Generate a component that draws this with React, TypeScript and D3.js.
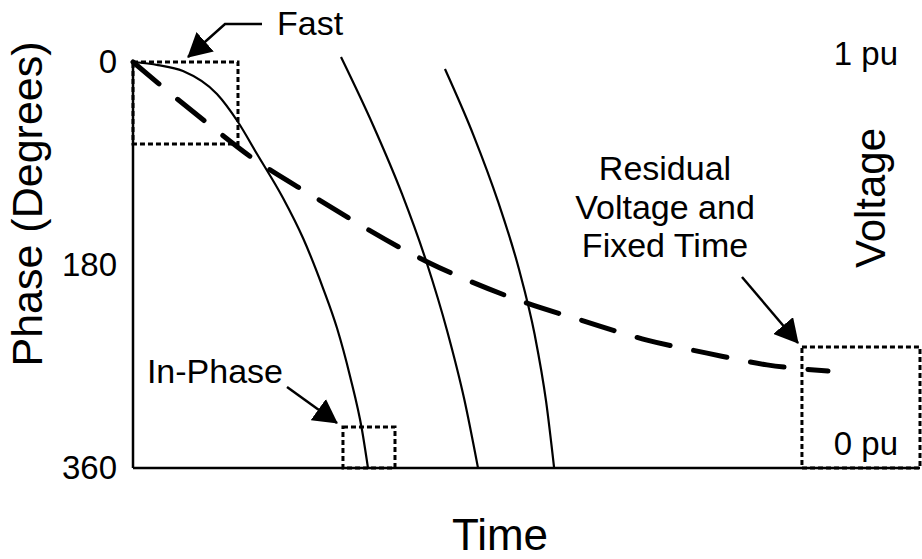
import React, { useEffect, useRef } from 'react';
import * as d3 from 'd3';

// phase ticks on the left axis
const phaseTicks = [0, 180, 360];

// solid curves: time vs phase (degrees)
const curveFast = [
  { t: 0, p: 0 }, { t: 0.318, p: 2.7 }, { t: 0.635, p: 8 }, { t: 1.067, p: 28.4 },
  { t: 1.334, p: 53.2 }, { t: 1.576, p: 81.6 }, { t: 1.906, p: 120.6 }, { t: 2.16, p: 156.1 },
  { t: 2.414, p: 200.4 }, { t: 2.592, p: 235.9 }, { t: 2.757, p: 278.4 }, { t: 2.91, p: 326.3 },
  { t: 2.986, p: 360 }
];
const curveMid = [
  { t: 2.643, p: -4.4 }, { t: 3.052, p: 56.3 }, { t: 3.418, p: 117 }, { t: 3.731, p: 177.8 },
  { t: 3.992, p: 238.5 }, { t: 4.21, p: 299.3 }, { t: 4.384, p: 360 }
];
const curveLate = [
  { t: 3.964, p: 6.2 }, { t: 4.328, p: 65.2 }, { t: 4.64, p: 124.1 }, { t: 4.902, p: 183.1 },
  { t: 5.105, p: 242.1 }, { t: 5.249, p: 301 }, { t: 5.351, p: 360 }
];

// dashed curve: residual voltage in pu
const voltageDecay = [
  { t: 0, v: 1.0 }, { t: 0.318, v: 0.948 }, { t: 0.94, v: 0.85 }, { t: 1.55, v: 0.759 },
  { t: 2.224, v: 0.677 }, { t: 3.748, v: 0.507 }, { t: 5.006, v: 0.406 }, { t: 5.68, v: 0.365 },
  { t: 6.531, v: 0.315 }, { t: 7.294, v: 0.283 }, { t: 8.056, v: 0.254 }, { t: 8.831, v: 0.239 }
];

// dotted annotation boxes [t0, t1, p0, p1]
const boxes = [
  [0, 1.334, 0, 72.7],
  [2.668, 3.329, 323.6, 360],
  [8.5, 10, 252.7, 360]
];

// annotation arrows, last point is the tip
const arrows = [
  [{ t: 1.639, p: -33.7 }, { t: 1.169, p: -33.7 }, { t: 0.699, p: -4.4 }],
  [{ t: 1.957, p: 288.2 }, { t: 2.592, p: 320.1 }],
  [{ t: 7.738, p: 190.6 }, { t: 8.45, p: 249.2 }]
];

const residualLines = ['Residual', 'Voltage and', 'Fixed Time'];

const W = 922, H = 559;
const left = 133, right = 920, top = 62, bottom = 468;
const font = '"Liberation Sans", Arial, sans-serif';

export default function App() {
  const axisRef = useRef<SVGGElement>(null);

  const x = d3.scaleLinear().domain([0, 10]).range([left, right]);
  const y = d3.scaleLinear().domain([0, 360]).range([top, bottom]);
  const yv = d3.scaleLinear().domain([0, 1]).range([bottom, top]);

  const phaseLine = d3.line<{ t: number; p: number }>()
    .x(d => x(d.t)).y(d => y(d.p))
    .curve(d3.curveMonotoneX);
  const voltLine = d3.line<{ t: number; v: number }>()
    .x(d => x(d.t)).y(d => yv(d.v))
    .curve(d3.curveMonotoneX);
  const arrowLine = d3.line<{ t: number; p: number }>()
    .x(d => x(d.t)).y(d => y(d.p));

  useEffect(() => {
    const g = d3.select(axisRef.current);
    g.selectAll('*').remove();
    g.call(d3.axisLeft(y).tickValues(phaseTicks).tickSize(0).tickSizeOuter(0).tickPadding(16) as any);
    g.select('.domain').remove();
    g.selectAll('text')
      .attr('font-size', 33)
      .attr('font-family', font)
      .attr('fill', '#000');
  }, []);

  return (
    <svg width={W} height={H} style={{ position: 'absolute', left: 0, top: 0, background: '#fff' }}>
      <defs>
        <marker id="head" viewBox="0 0 24 26" refX={23} refY={13} markerWidth={24} markerHeight={26}
          markerUnits="userSpaceOnUse" orient="auto">
          <path d="M0,0 L24,13 L0,26 Z" fill="#000" />
        </marker>
      </defs>

      {/* dotted boxes */}
      {boxes.map((b, i) => (
        <rect key={i} x={x(b[0])} y={y(b[2])} width={x(b[1]) - x(b[0])} height={y(b[3]) - y(b[2])}
          fill="none" stroke="#000" strokeWidth={3} strokeDasharray="5 3" />
      ))}

      {/* axes */}
      <line x1={left} y1={top} x2={left} y2={bottom} stroke="#000" strokeWidth={2.5} />
      <line x1={left} y1={bottom} x2={right} y2={bottom} stroke="#000" strokeWidth={2.5} />
      <g ref={axisRef} transform={`translate(${left},0)`} />

      {/* phase curves */}
      {[curveFast, curveMid, curveLate].map((c, i) => (
        <path key={i} d={phaseLine(c) || ''} fill="none" stroke="#000" strokeWidth={2.2} />
      ))}

      {/* residual voltage */}
      <path d={voltLine(voltageDecay) || ''} fill="none" stroke="#000" strokeWidth={5}
        strokeDasharray="34 24" strokeLinecap="round" />

      {/* arrows */}
      {arrows.map((a, i) => (
        <path key={i} d={arrowLine(a) || ''} fill="none" stroke="#000" strokeWidth={2.5}
          markerEnd="url(#head)" />
      ))}

      <g fontFamily={font} fill="#000">
        <text x={277} y={35} fontSize={34}>Fast</text>
        <text x={283} y={383} fontSize={34} textAnchor="end">In-Phase</text>
        {residualLines.map((s, i) => (
          <text key={i} x={665} y={180 + i * 38.5} fontSize={34} textAnchor="middle">{s}</text>
        ))}
        <text x={898} y={65} fontSize={33} textAnchor="end">1 pu</text>
        <text x={898} y={455} fontSize={33} textAnchor="end">0 pu</text>
        <text transform="translate(885,198) rotate(-90)" fontSize={42} textAnchor="middle">Voltage</text>
        <text transform="translate(42,204) rotate(-90)" fontSize={43} textAnchor="middle">Phase (Degrees)</text>
        <text x={500} y={550} fontSize={44} textAnchor="middle">Time</text>
      </g>
    </svg>
  );
}
